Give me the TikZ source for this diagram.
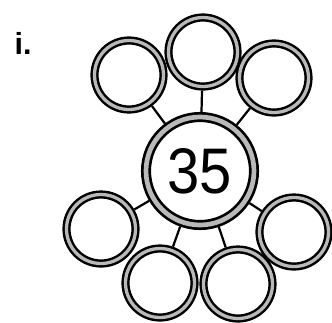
\documentclass[tikz,border=0pt]{standalone}
\usepackage{fontspec}
\setmainfont{Liberation Sans}
\usetikzlibrary{backgrounds}
\begin{document}
\begin{tikzpicture}[
    x=0.03cm, y=-0.03cm,
    ring/.style={circle, draw, line width=2.1pt, double=gray!55, double distance=2.8pt, fill=white, minimum size=2.07cm, inner sep=0pt, outer sep=3.5pt},
    hub/.style={ring, line width=2.3pt, double distance=4pt, minimum size=3.24cm, outer sep=4.3pt},
    spoke/.style={line width=1.9pt}
]
    \useasboundingbox (0,0) rectangle (332,322);

    % Centre
    \node[hub] (hub) at (200,171) {\fontsize{55}{60}\selectfont\scalebox{0.9}[1]{35}};

    % Outer circles
    \node[ring] (tl) at (129,75) {};
    \node[ring] (tr) at (274,78) {};
    \node[ring] (t) at (203,52) {};
    \node[ring] (l) at (101,229) {};
    \node[ring] (r) at (294,232) {};
    \node[ring] (bl) at (160,283) {};
    \node[ring] (br) at (238,284) {};

    % Spokes
    \begin{scope}[on background layer]
        \draw[spoke] (hub) -- (tl);
        \draw[spoke] (hub) -- (t);
        \draw[spoke] (hub) -- (tr);
        \draw[spoke] (hub) -- (l);
        \draw[spoke] (hub) -- (bl);
        \draw[spoke] (hub) -- (br);
        \draw[spoke] (hub) -- (r);
    \end{scope}

    % Label
    \node[font=\fontsize{26}{30}\selectfont\bfseries] (label) at (23,43) {i.};
\end{tikzpicture}
\end{document}
